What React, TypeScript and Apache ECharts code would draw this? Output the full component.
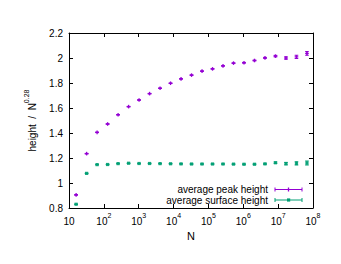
import React, { useEffect, useRef } from "react";
import * as echarts from "echarts";

const nValues = [16, 32, 64, 128, 256, 512, 1024, 2048, 4096, 8192, 16384, 32768, 65536, 131072, 262144, 524288, 1048576, 2097152, 4194304, 8388608, 16777216, 33554432, 67108864];
const peakHeight = [0.905, 1.235, 1.405, 1.472, 1.546, 1.611, 1.664, 1.715, 1.758, 1.798, 1.833, 1.863, 1.895, 1.913, 1.937, 1.959, 1.962, 1.98, 2.001, 2.015, 2.0, 2.009, 2.037];
const peakErr = [0.002, 0.002, 0.002, 0.002, 0.002, 0.002, 0.002, 0.002, 0.002, 0.002, 0.002, 0.002, 0.002, 0.002, 0.002, 0.002, 0.003, 0.003, 0.004, 0.006, 0.01, 0.013, 0.015];
const surfaceHeight = [0.83, 1.077, 1.147, 1.148, 1.155, 1.158, 1.156, 1.156, 1.155, 1.154, 1.153, 1.152, 1.152, 1.152, 1.152, 1.151, 1.15, 1.15, 1.153, 1.162, 1.155, 1.157, 1.16];
const surfaceErr = [0.002, 0.002, 0.002, 0.002, 0.002, 0.002, 0.002, 0.002, 0.002, 0.002, 0.002, 0.002, 0.002, 0.002, 0.002, 0.002, 0.003, 0.003, 0.004, 0.006, 0.01, 0.013, 0.016];
const yTicks = [0.8, 1.0, 1.2, 1.4, 1.6, 1.8, 2.0, 2.2];
const seriesNames = ["average peak height", "average surface height"];
const colors = ["#9400d3", "#009e73"];

const FONT = "Liberation Sans, Arial, sans-serif";

function makeErrSeries(name: string, vals: number[], errs: number[], color: string, kind: string) {
  const data = nValues.map((n, i) => [n, vals[i], vals[i] - errs[i], vals[i] + errs[i]]);
  return {
    type: "custom",
    name,
    data,
    renderItem: (params: any, api: any) => {
      const x = api.value(0);
      const y = api.value(1);
      const lo = api.coord([x, api.value(2)]);
      const hi = api.coord([x, api.value(3)]);
      const c = api.coord([x, y]);
      const cap = 1.8;
      const st = { stroke: color, lineWidth: 1 };
      const children: any[] = [
        { type: "line", shape: { x1: lo[0], y1: lo[1], x2: hi[0], y2: hi[1] }, style: st },
        { type: "line", shape: { x1: lo[0] - cap, y1: lo[1], x2: lo[0] + cap, y2: lo[1] }, style: st },
        { type: "line", shape: { x1: hi[0] - cap, y1: hi[1], x2: hi[0] + cap, y2: hi[1] }, style: st },
      ];
      if (kind === "plus") {
        children.push({ type: "line", shape: { x1: c[0] - 1.8, y1: c[1], x2: c[0] + 1.8, y2: c[1] }, style: { stroke: color, lineWidth: 1.3 } });
        children.push({ type: "line", shape: { x1: c[0], y1: c[1] - 1.8, x2: c[0], y2: c[1] + 1.8 }, style: { stroke: color, lineWidth: 1.3 } });
      } else {
        children.push({ type: "rect", shape: { x: c[0] - 1.6, y: c[1] - 1.6, width: 3.2, height: 3.2 }, style: { fill: color, opacity: 0.9 } });
      }
      return { type: "group", children };
    },
  };
}

export default function App() {
  const ref = useRef<HTMLDivElement>(null);
  useEffect(() => {
    const chart = echarts.init(ref.current!, null, { renderer: "svg" });
    const supLabel = (v: number) => {
      const e = Math.round(Math.log10(v));
      if (e === 1) return "{b|10}";
      return "{b|10}{s|" + e + "}";
    };
    const legendX1 = 275, legendX2 = 302, legendTextX = 268;
    const legendYs = [189.5, 200];
    const legendGraphics: any[] = [];
    seriesNames.forEach((nm, i) => {
      const y = legendYs[i];
      const cl = colors[i];
      legendGraphics.push(
        { type: "text", x: legendTextX, y, style: { text: nm, fill: "#000", font: "10px " + FONT, textAlign: "right", textVerticalAlign: "middle" } },
        { type: "line", shape: { x1: legendX1, y1: y, x2: legendX2, y2: y }, style: { stroke: cl, lineWidth: 1 } },
        { type: "line", shape: { x1: legendX1, y1: y - 2, x2: legendX1, y2: y + 2 }, style: { stroke: cl, lineWidth: 1 } },
        { type: "line", shape: { x1: legendX2, y1: y - 2, x2: legendX2, y2: y + 2 }, style: { stroke: cl, lineWidth: 1 } },
        i === 0
          ? { type: "line", shape: { x1: 288.5, y1: y - 2, x2: 288.5, y2: y + 2 }, style: { stroke: cl, lineWidth: 1.3 } }
          : { type: "rect", shape: { x: 287, y: y - 1.6, width: 3.2, height: 3.2 }, style: { fill: cl } }
      );
    });
    const axisLine = { show: true, lineStyle: { color: "#000", width: 1 } };
    const tick = { show: true, inside: true, length: 4, lineStyle: { color: "#000", width: 1 } };
    chart.setOption({
      animation: false,
      backgroundColor: "#fff",
      grid: { left: 69, right: 28, top: 33, bottom: 56, containLabel: false },
      xAxis: [
        {
          type: "log",
          logBase: 10,
          min: 10,
          max: 100000000,
          name: "N",
          nameLocation: "middle",
          nameGap: 18,
          nameTextStyle: { fontFamily: FONT, fontSize: 11, color: "#000" },
          axisLine,
          axisTick: tick,
          minorTick: { show: false },
          splitLine: { show: false },
          axisLabel: {
            margin: 4,
            color: "#000",
            formatter: supLabel,
            rich: {
              b: { fontFamily: FONT, fontSize: 10, color: "#000", lineHeight: 14, verticalAlign: "bottom" },
              s: { fontFamily: FONT, fontSize: 7, color: "#000", lineHeight: 14, verticalAlign: "top" },
            },
          },
        },
        {
          type: "log",
          logBase: 10,
          min: 10,
          max: 100000000,
          position: "top",
          axisLine,
          axisTick: tick,
          axisLabel: { show: false },
          splitLine: { show: false },
        },
      ],
      yAxis: [
        {
          type: "value",
          min: 0.8,
          max: 2.2,
          interval: 0.2,
          name: "{t|height  /  N}{s|0.28}",
          nameLocation: "middle",
          nameGap: 32,
          nameRotate: 90,
          nameTextStyle: {
            rich: {
              t: { fontFamily: FONT, fontSize: 10, color: "#000", lineHeight: 14, verticalAlign: "bottom" },
              s: { fontFamily: FONT, fontSize: 7, color: "#000", lineHeight: 14, verticalAlign: "top" },
            },
          },
          axisLine,
          axisTick: tick,
          splitLine: { show: false },
          axisLabel: {
            margin: 6,
            fontFamily: FONT,
            fontSize: 10,
            color: "#000",
            formatter: (v: number) => {
              const r = Math.round(v * 10) / 10;
              const hit = yTicks.find((t) => Math.abs(t - r) < 1e-6);
              return hit === undefined ? "" : String(hit);
            },
          },
        },
        {
          type: "value",
          min: 0.8,
          max: 2.2,
          interval: 0.2,
          position: "right",
          axisLine,
          axisTick: tick,
          axisLabel: { show: false },
          splitLine: { show: false },
        },
      ],
      series: [
        makeErrSeries(seriesNames[0], peakHeight, peakErr, colors[0], "plus"),
        makeErrSeries(seriesNames[1], surfaceHeight, surfaceErr, colors[1], "box"),
      ],
      graphic: legendGraphics,
    });
    return () => chart.dispose();
  }, []);
  return <div ref={ref} style={{ position: "fixed", left: 0, top: 0, width: 341, height: 264 }} />;
}
